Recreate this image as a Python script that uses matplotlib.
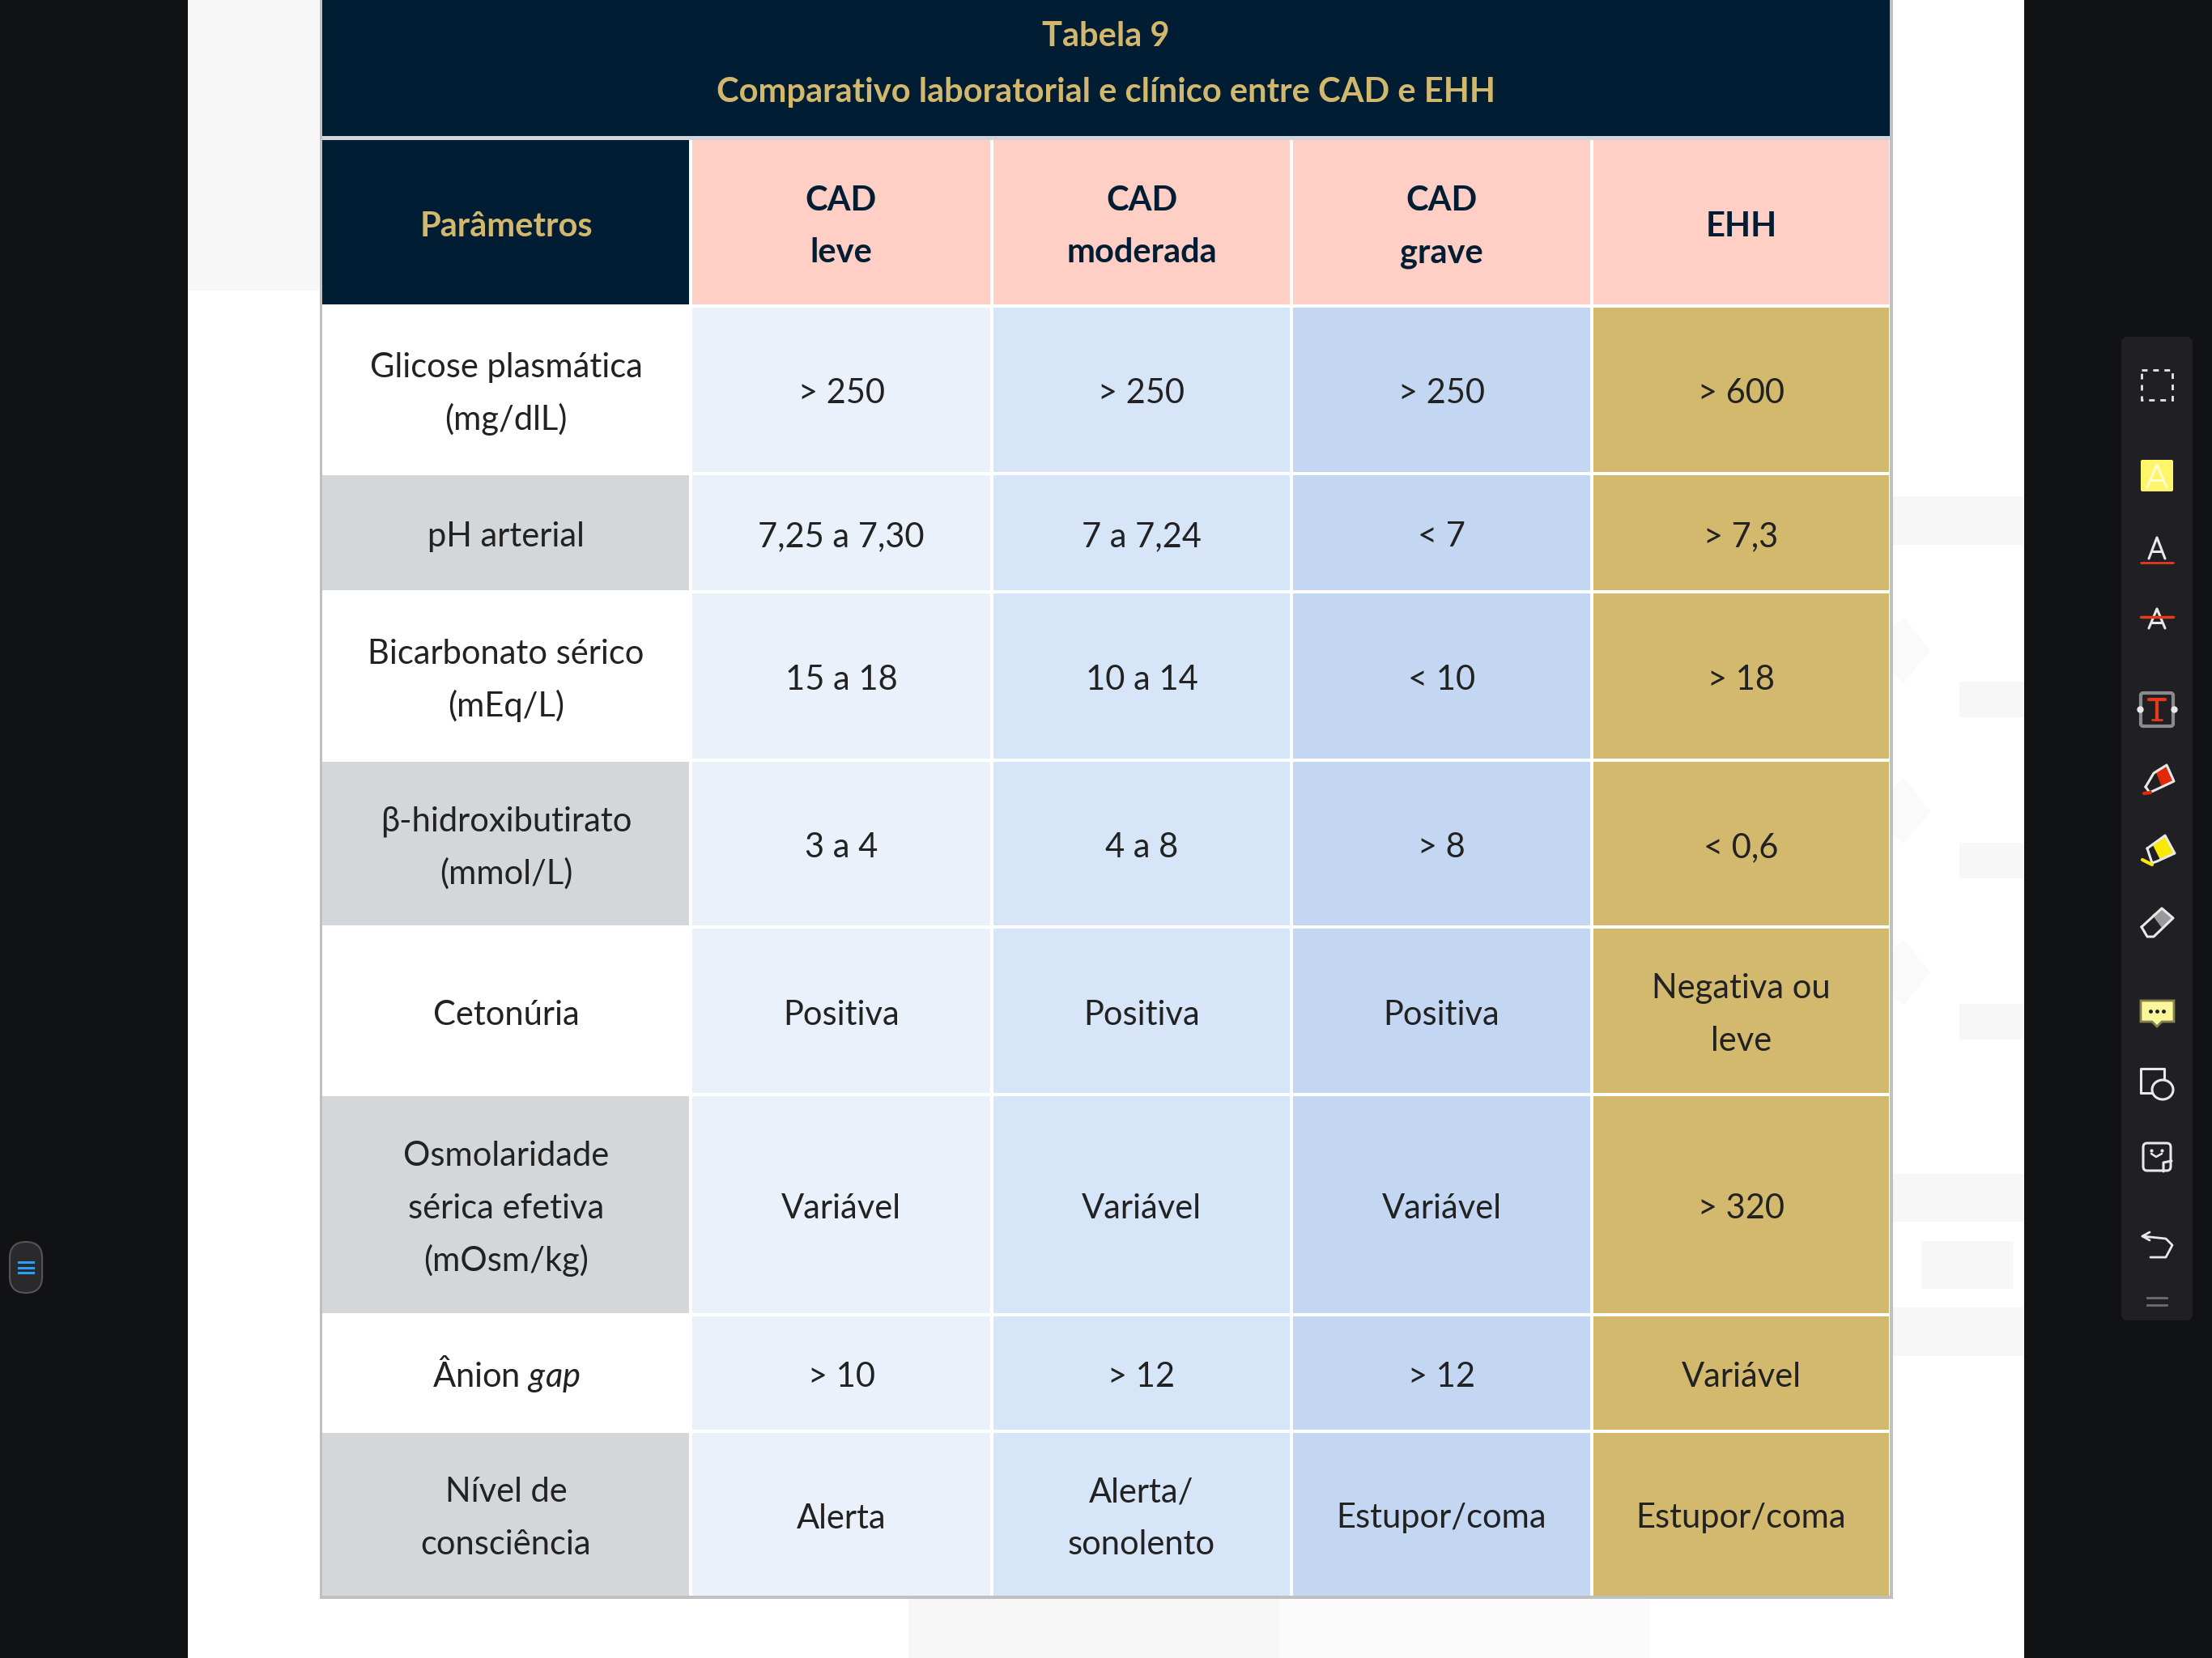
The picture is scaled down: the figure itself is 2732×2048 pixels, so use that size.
# -*- coding: utf-8 -*-
import matplotlib.pyplot as plt
from matplotlib.patches import Rectangle, Polygon, FancyBboxPatch, Ellipse

plt.rcParams['font.family'] = ['Lato', 'DejaVu Sans']
plt.rcParams['mathtext.fontset'] = 'custom'
plt.rcParams['mathtext.rm'] = 'Lato'
plt.rcParams['mathtext.it'] = 'Lato:italic'

# table content
title = ["Tabela 9", "Comparativo laboratorial e clínico entre CAD e EHH"]
header = ["Parâmetros", "CAD\nleve", "CAD\nmoderada", "CAD\ngrave", "EHH"]
parametros = ["Glicose plasmática\n(mg/dlL)", "pH arterial", "Bicarbonato sérico\n(mEq/L)",
              "β-hidroxibutirato\n(mmol/L)", "Cetonúria", "Osmolaridade\nsérica efetiva\n(mOsm/kg)",
              "Ânion $\\mathit{gap}$", "Nível de\nconsciência"]
cad_leve = ["> 250", "7,25 a 7,30", "15 a 18", "3 a 4", "Positiva", "Variável", "> 10", "Alerta"]
cad_moderada = ["> 250", "7 a 7,24", "10 a 14", "4 a 8", "Positiva", "Variável", "> 12", "Alerta/\nsonolento"]
cad_grave = ["> 250", "< 7", "< 10", "> 8", "Positiva", "Variável", "> 12", "Estupor/coma"]
ehh = ["> 600", "> 7,3", "> 18", "< 0,6", "Negativa ou\nleve", "> 320", "Variável", "Estupor/coma"]

# layout, in pixels of the screenshot
col_edges = [397, 853, 1225, 1595, 1966, 2335]
row_edges = [378, 585, 731, 939, 1145, 1352, 1624, 1768, 1973]
line_h = 65
fs = 30
base_off = 15

NAVY = '#011d33'
GOLD = '#d2b86d'
PINK = '#ffcec4'
DARK = '#111214'
FAINT = '#f7f7f7'
INK = '#222222'
col_colors = ['#eaf1fb', '#d7e5f8', '#c3d7f3', '#d2b96d']

fig = plt.figure(figsize=(27.32, 20.48), dpi=100)
ax = fig.add_axes([0, 0, 1, 1])
ax.set_xlim(0, 2732)
ax.set_ylim(2048, 0)
ax.axis('off')


def box(x0, y0, x1, y1, color, z=1):
    ax.add_patch(Rectangle((x0, y0), x1 - x0, y1 - y0, facecolor=color, edgecolor='none', zorder=z))


def line(xs, ys, color='#e8e8e8', lw=2.2, z=5):
    ax.plot(xs, ys, color=color, lw=lw, zorder=z, solid_capstyle='round', solid_joinstyle='round')


def cell_text(label, cx, cy, color=INK, weight='normal'):
    parts = label.split("\n")
    for i, part in enumerate(parts):
        y = cy + (i - (len(parts) - 1) / 2) * line_h + base_off
        ax.text(cx, y, part, ha='center', va='baseline', fontsize=fs, color=color,
                fontweight=weight, zorder=6)


# page behind the table
box(0, 0, 2732, 2048, DARK, 0)
box(232, 0, 2500, 2048, 'white', 0.5)
box(232, 0, 397, 359, FAINT)
for y0, y1 in [(613, 673), (1450, 1509), (1615, 1675)]:
    box(2338, y0, 2500, y1, FAINT)
box(2373, 1533, 2487, 1592, FAINT)
for cy in [803, 1002, 1201]:
    ax.add_patch(Polygon([(2338, cy - 30), (2352, cy - 40), (2384, cy), (2352, cy + 40), (2338, cy + 30)],
                         facecolor='#fafafa', edgecolor='none', zorder=1))
    box(2420, cy + 39, 2500, cy + 83, FAINT)
box(1122, 1975, 1580, 2048, FAINT)
box(1580, 1975, 2038, 2048, '#fbfbfb')

# table
box(395, 0, 2338, 1975, '#c0c0c0', 2)
box(398, 0, 2334, 1971, 'white', 2.1)
box(398, 0, 2334, 168, NAVY, 3)
box(398, 168, 2334, 173, '#cfd5da', 3)
for i, t in enumerate(title):
    ax.text(1366, [42, 111][i] + base_off, t, ha='center', va='baseline', fontsize=fs, color=GOLD,
            fontweight='bold', zorder=6)

gap = 2
for j, h in enumerate(header):
    x0, x1 = col_edges[j], col_edges[j + 1]
    box(x0 + gap if j else 398, 173, x1 - gap, 376, NAVY if j == 0 else PINK, 3)
    cell_text(h, (x0 + x1) / 2, 277, GOLD if j == 0 else NAVY, 'bold')

columns = [parametros, cad_leve, cad_moderada, cad_grave, ehh]
for j, values in enumerate(columns):
    x0, x1 = col_edges[j], col_edges[j + 1]
    for i, v in enumerate(values):
        y0, y1 = row_edges[i], row_edges[i + 1]
        if j == 0:
            color = 'white' if i % 2 == 0 else '#d4d7da'
        else:
            color = col_colors[j - 1]
        box(x0 + gap if j else 398, y0 + gap, x1 - gap, y1 - gap if i < 7 else 1971, color, 3)
        cell_text(v, (x0 + x1) / 2, (y0 + y1) / 2 + 2)

# left menu button
ax.add_patch(FancyBboxPatch((32, 1554), 0.1, 23, boxstyle='round,pad=20,rounding_size=20',
                            facecolor='#2a2a2c', edgecolor='#555555', lw=1.5, zorder=3))
for y in [1559, 1566, 1572]:
    ax.plot([23, 41], [y, y], color='#2a9df4', lw=2.2, zorder=4)

# right toolbar
ax.add_patch(FancyBboxPatch((2628, 424), 72, 1199, boxstyle='round,pad=8,rounding_size=8',
                            facecolor='#202024', edgecolor='none', zorder=3))
RED = '#e8391c'
# selection
ax.add_patch(Rectangle((2645, 457), 38, 37, facecolor='none', edgecolor='#e8e8e8', lw=2, ls=(0, (2.5, 2.5)), zorder=5))
# highlight
ax.add_patch(FancyBboxPatch((2646, 570), 36, 35, boxstyle='round,pad=2,rounding_size=2',
                            facecolor='#fff56b', edgecolor='none', zorder=4))
line([2652, 2664, 2676], [602, 574, 602], '#fffbd0')
line([2657, 2671], [593, 593], '#fffbd0')
# underline
line([2654, 2664, 2674], [690, 664, 690])
line([2658, 2670], [681, 681])
line([2644, 2684], [695, 695], RED, 2)
# strike
line([2654, 2664, 2674], [776, 752, 776])
line([2658, 2670], [769, 769])
line([2644, 2684], [762, 762], RED, 2.5)
# text box
ax.add_patch(FancyBboxPatch((2645, 857), 38, 39, boxstyle='round,pad=1,rounding_size=3',
                            facecolor='none', edgecolor='#8a8a8a', lw=3, zorder=4))
ax.plot([2643, 2685], [876, 876], 'o', color='#e8e8e8', ms=5, zorder=5)
line([2654, 2674], [864, 864], RED, 3)
line([2664, 2664], [864, 889], RED, 3)
line([2658, 2670], [889, 889], RED, 2)
# marker and highlighter
ax.add_patch(Polygon([(2662, 952), (2674, 945), (2685, 965), (2670, 972)], facecolor='#e02a06', edgecolor='none', zorder=4))
line([2650, 2660, 2676, 2685, 2668, 2655, 2650], [972, 955, 945, 965, 973, 979, 972])
line([2648, 2656], [980, 979], '#e02a06', 3)
ax.add_patch(Polygon([(2658, 1042), (2674, 1032), (2686, 1054), (2668, 1062)], facecolor='#f7ea00', edgecolor='none', zorder=4))
line([2652, 2674, 2686, 2664, 2658, 2652], [1048, 1032, 1054, 1064, 1066, 1048])
line([2646, 2658], [1062, 1068], '#f7ea00', 3)
# eraser
ax.add_patch(Polygon([(2658, 1130), (2672, 1122), (2684, 1134), (2670, 1146)], facecolor='#999999', edgecolor='none', zorder=4))
line([2645, 2670, 2684, 2660, 2652, 2645], [1145, 1122, 1134, 1157, 1157, 1145])
# comment
ax.add_patch(Polygon([(2644, 1236), (2685, 1236), (2685, 1262), (2670, 1262), (2664, 1268), (2658, 1262), (2644, 1262)],
                     facecolor='#fdf79b', edgecolor='#85814f', lw=2, zorder=4))
ax.plot([2656, 2664, 2672], [1249, 1249, 1249], 'o', color='#222222', ms=2.5, zorder=5)
# shapes
line([2644, 2644, 2673, 2673], [1350, 1320, 1320, 1332])
line([2644, 2658], [1350, 1350])
ax.add_patch(Ellipse((2671, 1346), 26, 24, facecolor='#202024', edgecolor='#e8e8e8', lw=2.2, zorder=5))
# sticker
ax.add_patch(FancyBboxPatch((2649, 1414), 30, 30, boxstyle='round,pad=2,rounding_size=5',
                            facecolor='none', edgecolor='#e8e8e8', lw=2.2, zorder=4))
line([2672, 2672, 2682], [1447, 1436, 1434])
line([2657, 2663, 2670], [1425, 1429, 1425], lw=1.8)
ax.plot([2657, 2670], [1421, 1421], 'o', color='#e8e8e8', ms=2, zorder=5)
# undo
line([2655, 2646, 2655], [1522, 1527, 1532], lw=2)
line([2646, 2675, 2683, 2675, 2656], [1527, 1530, 1538, 1553, 1553], lw=2)
# handle
for y in [1603, 1612]:
    ax.plot([2652, 2676], [y, y], color='#6e6e72', lw=2, zorder=5)

fig.savefig('out.png', dpi=100, facecolor=DARK)
